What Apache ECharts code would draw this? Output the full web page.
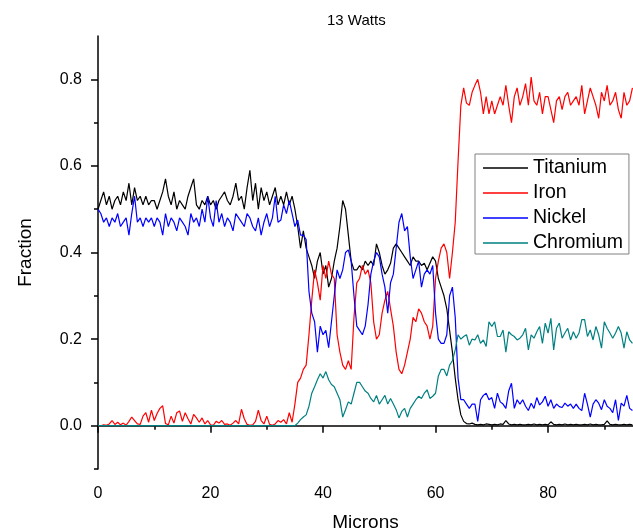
<!DOCTYPE html>
<html>
<head>
<meta charset="utf-8">
<script src="https://cdn.jsdelivr.net/npm/echarts@6/dist/echarts.min.js"></script>
<style>
  html, body { margin: 0; padding: 0; background: #fff; }
  #main { width: 633px; height: 532px; }
</style>
</head>
<body>
<div id="main"></div>
<script>
var STEP = 0.5; // microns between samples, first sample at 0

var titanium = [
  0.50,0.52,0.54,0.51,0.53,0.50,0.52,0.53,0.51,0.54,
  0.52,0.56,0.51,0.55,0.52,0.53,0.51,0.53,0.51,0.52,
  0.52,0.50,0.52,0.54,0.57,0.53,0.51,0.54,0.50,0.52,
  0.51,0.50,0.53,0.55,0.57,0.51,0.50,0.52,0.51,0.53,
  0.51,0.52,0.50,0.52,0.53,0.54,0.52,0.51,0.53,0.56,
  0.52,0.53,0.50,0.55,0.59,0.52,0.56,0.50,0.55,0.52,
  0.54,0.51,0.53,0.55,0.51,0.53,0.51,0.54,0.51,0.53,
  0.50,0.46,0.41,0.45,0.41,0.39,0.37,0.34,0.38,0.40,
  0.35,0.37,0.32,0.34,0.38,0.41,0.46,0.52,0.50,0.44,
  0.38,0.36,0.36,0.37,0.36,0.38,0.37,0.38,0.37,0.42,
  0.40,0.37,0.35,0.36,0.375,0.41,0.42,0.41,0.40,0.39,
  0.38,0.37,0.39,0.38,0.38,0.37,0.375,0.36,0.375,0.39,
  0.38,0.34,0.32,0.30,0.27,0.22,0.17,0.11,0.06,0.025,
  0.01,0.005,0.004,0.006,0.003,0.002,0.003,0.002,0.004,0.003,
  0.002,0.003,0.002,0.004,0.003,0.012,0.004,0.002,0.003,0.002,
  0.003,0.002,0.002,0.003,0.002,0.004,0.002,0.003,0.002,0.003,
  0.002,0.009,0.003,0.002,0.003,0.002,0.004,0.002,0.003,0.002,
  0.003,0.002,0.002,0.003,0.002,0.004,0.002,0.003,0.002,0.002,
  0.003,0.011,0.003,0.002,0.003,0.002,0.002,0.003,0.002,0.003,
  0.002
];

var iron = [
  0,0,0.002,0.001,0.004,0.012,0.003,0.008,0.002,0.006,
  0.001,0.01,0.02,0.012,0.004,0.003,0.022,0.03,0.008,0.036,
  0.012,0.028,0.04,0.046,0.005,0.002,0.022,0.006,0.03,0.034,
  0.01,0.03,0.016,0.004,0.026,0.018,0.008,0.018,0.004,0.012,
  0.002,0.001,0.01,0.006,0.012,0.003,0.004,0.001,0.006,0.012,
  0.004,0.038,0.016,0.003,0.001,0.002,0.01,0.036,0.012,0.004,
  0.022,0.003,0.001,0.004,0.012,0.008,0.014,0.004,0.03,0.008,
  0.05,0.10,0.11,0.13,0.14,0.21,0.29,0.36,0.33,0.29,
  0.37,0.34,0.38,0.35,0.34,0.21,0.17,0.14,0.13,0.15,
  0.13,0.25,0.33,0.34,0.37,0.35,0.36,0.33,0.24,0.20,
  0.21,0.26,0.29,0.31,0.27,0.23,0.17,0.13,0.12,0.14,
  0.17,0.20,0.25,0.24,0.27,0.26,0.24,0.23,0.20,0.23,
  0.34,0.38,0.41,0.42,0.40,0.34,0.40,0.47,0.61,0.74,
  0.78,0.745,0.74,0.77,0.786,0.80,0.77,0.72,0.76,0.72,
  0.75,0.72,0.74,0.76,0.74,0.786,0.74,0.70,0.76,0.78,
  0.74,0.76,0.79,0.74,0.805,0.75,0.74,0.77,0.72,0.76,
  0.76,0.73,0.70,0.75,0.76,0.73,0.76,0.77,0.74,0.75,
  0.76,0.74,0.786,0.72,0.75,0.78,0.76,0.74,0.71,0.77,
  0.75,0.786,0.74,0.75,0.77,0.73,0.71,0.77,0.74,0.75,
  0.78
];

var nickel = [
  0.50,0.49,0.47,0.48,0.46,0.48,0.47,0.49,0.46,0.47,
  0.48,0.44,0.49,0.53,0.47,0.48,0.46,0.48,0.47,0.48,
  0.46,0.48,0.47,0.44,0.49,0.46,0.48,0.47,0.45,0.48,
  0.47,0.46,0.44,0.49,0.47,0.48,0.46,0.50,0.47,0.53,
  0.48,0.46,0.52,0.47,0.49,0.46,0.48,0.47,0.45,0.49,
  0.48,0.47,0.46,0.49,0.48,0.46,0.45,0.48,0.44,0.47,
  0.49,0.46,0.48,0.53,0.47,0.475,0.51,0.49,0.52,0.49,
  0.46,0.475,0.44,0.44,0.43,0.31,0.26,0.24,0.17,0.23,
  0.21,0.22,0.18,0.24,0.30,0.36,0.34,0.36,0.40,0.406,
  0.38,0.30,0.23,0.22,0.21,0.23,0.28,0.35,0.38,0.40,
  0.39,0.35,0.32,0.26,0.33,0.35,0.41,0.47,0.49,0.45,
  0.46,0.39,0.34,0.36,0.38,0.32,0.35,0.36,0.35,0.37,
  0.26,0.20,0.19,0.19,0.21,0.30,0.32,0.25,0.11,0.06,
  0.06,0.05,0.04,0.05,0.05,0.01,0.06,0.07,0.075,0.06,
  0.065,0.04,0.075,0.055,0.05,0.04,0.08,0.098,0.04,0.06,
  0.05,0.06,0.045,0.035,0.052,0.04,0.065,0.048,0.055,0.068,
  0.045,0.06,0.04,0.05,0.044,0.042,0.052,0.045,0.05,0.04,
  0.05,0.04,0.035,0.075,0.05,0.02,0.05,0.06,0.052,0.037,
  0.06,0.045,0.04,0.03,0.06,0.012,0.052,0.045,0.07,0.04,
  0.035
];

var chromium = [
  0,0,0,0,0,0,0,0,0,0,
  0,0,0,0,0,0,0,0,0,0,
  0,0,0,0,0,0,0,0,0,0,
  0,0,0,0,0,0,0,0,0,0,
  0,0,0,0,0,0,0,0,0,0,
  0,0,0,0,0,0,0,0,0,0,
  0,0,0,0,0,0,0,0,0,0,
  0,0.006,0.014,0.02,0.025,0.045,0.075,0.09,0.106,0.12,
  0.11,0.125,0.106,0.095,0.09,0.075,0.06,0.02,0.037,0.055,
  0.05,0.075,0.10,0.10,0.09,0.08,0.075,0.063,0.055,0.07,
  0.05,0.06,0.07,0.05,0.063,0.05,0.037,0.018,0.033,0.04,
  0.02,0.04,0.05,0.06,0.068,0.063,0.075,0.083,0.063,0.068,
  0.075,0.115,0.13,0.13,0.115,0.14,0.15,0.175,0.21,0.20,
  0.206,0.21,0.186,0.20,0.198,0.21,0.19,0.198,0.183,0.24,
  0.229,0.24,0.206,0.206,0.221,0.17,0.217,0.21,0.206,0.198,
  0.202,0.21,0.225,0.175,0.21,0.202,0.217,0.229,0.19,0.237,
  0.214,0.248,0.175,0.225,0.237,0.202,0.214,0.225,0.198,0.217,
  0.202,0.214,0.245,0.245,0.206,0.221,0.198,0.229,0.21,0.179,
  0.24,0.225,0.214,0.202,0.214,0.229,0.214,0.179,0.217,0.198,
  0.19
];

var names = ['Titanium', 'Iron', 'Nickel', 'Chromium'];
var colors = ['#000000', '#ff0000', '#0000ff', '#008080'];
var xLabels = [0, 20, 40, 60, 80];
var xMinor = [10, 30, 50, 70, 90];
var yLabels = [0, 0.2, 0.4, 0.6, 0.8];
var yMinor = [-0.1, 0.1, 0.3, 0.5, 0.7];

var FONT = 'Arial, "Liberation Sans", sans-serif';

function pairs(vals) {
  return vals.map(function (v, i) { return [i * STEP, v]; });
}

var myChart = echarts.init(document.getElementById('main'));

var axisLine = { show: true, lineStyle: { color: '#000', width: 1.5 } };

myChart.setOption({
  animation: false,
  backgroundColor: '#fff',
  title: {
    text: '13 Watts',
    left: 322,
    top: 8,
    textStyle: { fontSize: 15, fontWeight: 'normal', color: '#000', fontFamily: FONT }
  },
  legend: {
    data: names,
    orient: 'vertical',
    left: 475,
    top: 154,
    icon: 'rect',
    itemWidth: 45,
    itemHeight: 1.5,
    itemGap: 5,
    padding: [4, 6, 1, 8],
    borderColor: '#808080',
    borderWidth: 1,
    backgroundColor: '#fff',
    textStyle: { fontSize: 19.5, color: '#000', fontFamily: FONT, lineHeight: 20 }
  },
  grid: { left: 98, right: 0, top: 36, bottom: 63, outerBoundsMode: 'none' },
  xAxis: [{
    type: 'value', min: 0, max: 95.1,
    name: 'Microns', nameLocation: 'middle', nameGap: 44,
    nameTextStyle: { fontSize: 19, color: '#000', fontFamily: FONT },
    axisLine: axisLine,
    axisTick: { show: true, customValues: xLabels, length: 7, lineStyle: { color: '#000', width: 1.5 } },
    axisLabel: { customValues: xLabels, fontSize: 16, color: '#000', fontFamily: FONT, margin: 17 },
    splitLine: { show: false }
  }, {
    type: 'value', min: 0, max: 95.1, position: 'bottom',
    axisLine: { show: false },
    axisTick: { show: true, customValues: xMinor, length: 4, lineStyle: { color: '#000', width: 1.5 } },
    axisLabel: { show: false },
    splitLine: { show: false }
  }],
  yAxis: [{
    type: 'value', min: -0.1, max: 0.9,
    name: 'Fraction', nameLocation: 'middle', nameGap: 63,
    nameTextStyle: { fontSize: 19, color: '#000', fontFamily: FONT },
    axisLine: axisLine,
    axisTick: { show: true, customValues: yLabels, length: 7, lineStyle: { color: '#000', width: 1.5 } },
    axisLabel: {
      customValues: yLabels, fontSize: 16, color: '#000', fontFamily: FONT, margin: 16,
      formatter: function (v) { return v.toFixed(1); }
    },
    splitLine: { show: false }
  }, {
    type: 'value', min: -0.1, max: 0.9, position: 'left',
    axisLine: { show: false },
    axisTick: { show: true, customValues: yMinor, length: 4, lineStyle: { color: '#000', width: 1.5 } },
    axisLabel: { show: false },
    splitLine: { show: false }
  }],
  series: [titanium, iron, nickel, chromium].map(function (vals, k) {
    return {
      name: names[k],
      type: 'line',
      data: pairs(vals),
      symbol: 'none',
      color: colors[k],
      lineStyle: { color: colors[k], width: 1.2 }
    };
  })
});
</script>
</body>
</html>
